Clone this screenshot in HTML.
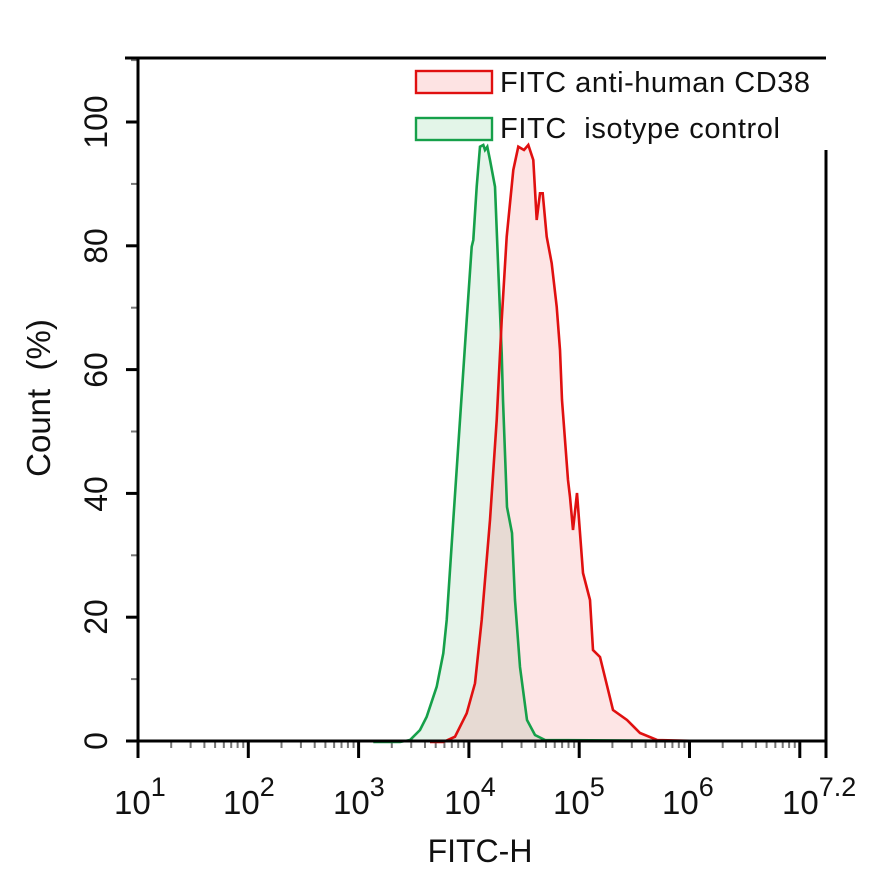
<!DOCTYPE html>
<html><head><style>
body{margin:0;background:#fff;}
svg text{font-family:"Liberation Sans",Arial,sans-serif;fill:#111;}
</style></head><body>
<svg id="s" width="869" height="877" xmlns="http://www.w3.org/2000/svg">
<g id="minor" stroke="#777" stroke-width="2"></g>
<path id="gf" fill="#2e9e4f" fill-opacity="0.12" stroke="none"/>
<path id="rf" fill="#f05050" fill-opacity="0.15" stroke="none"/>
<path id="gl" fill="none" stroke="#16a04a" stroke-width="2.6"/>
<path id="rl" fill="none" stroke="#e01010" stroke-width="2.6"/>
<g stroke="#000" stroke-width="3" fill="none">
<line x1="125" y1="58" x2="826" y2="58"/>
<line x1="138" y1="58" x2="138" y2="742"/>
<line x1="126" y1="741" x2="826" y2="741"/>
<line x1="826" y1="150" x2="826" y2="758"/>
</g>
<g id="major" stroke="#000" stroke-width="3"></g>
<rect x="416" y="71" width="76" height="22" fill="#fde3e3" stroke="#e01010" stroke-width="2.4"/>
<text x="500" y="92" font-size="29" textLength="310">FITC anti-human CD38</text>
<rect x="416" y="118" width="76" height="22" fill="#e3f5e8" stroke="#16a04a" stroke-width="2.4"/>
<text x="500" y="138" font-size="29" xml:space="preserve" textLength="280">FITC  isotype control</text>
<g font-size="32" text-anchor="middle">
<text transform="translate(107,741) rotate(-90)">0</text>
<text transform="translate(107,617) rotate(-90)">20</text>
<text transform="translate(107,494) rotate(-90)">40</text>
<text transform="translate(107,370) rotate(-90)">60</text>
<text transform="translate(107,246) rotate(-90)">80</text>
<text transform="translate(107,122) rotate(-90)">100</text>
<text transform="translate(50,398) rotate(-90)" xml:space="preserve" font-size="33">Count  (%)</text>
<text x="480" y="862" font-size="32">FITC-H</text>
</g>
<g font-size="33">
<text x="114" y="814">10<tspan dy="-18" font-size="27">1</tspan></text>
<text x="223" y="814">10<tspan dy="-18" font-size="27">2</tspan></text>
<text x="333" y="814">10<tspan dy="-18" font-size="27">3</tspan></text>
<text x="444" y="814">10<tspan dy="-18" font-size="27">4</tspan></text>
<text x="553" y="814">10<tspan dy="-18" font-size="27">5</tspan></text>
<text x="662" y="814">10<tspan dy="-18" font-size="27">6</tspan></text>
<text x="782" y="814">10<tspan dy="-18" font-size="27">7.2</tspan></text>
</g>
</svg>
<script>
function T(a){return a.map(function(p){return [400+p[0]/3,120+p[1]/3];});}
var g=T([[-80,1866],[0,1866],[30,1860],[60,1830],[80,1790],[110,1700],[130,1600],[140,1500],[160,1200],[180,900],[200,600],[215,380],[220,360],[230,200],[240,80],[250,75],[255,90],[262,80],[270,120],[285,200],[295,450],[305,700]]).concat([[503,400],[507,507],[512,533],[515,600],[520,667],[527,720],[535,735],[545,740],[700,741]]);
var r=T([[90,1866],[130,1866],[165,1850],[200,1780],[225,1690],[245,1500],[270,1200],[290,900],[305,600],[320,350],[340,150],[355,80],[372,90],[385,75],[400,120],[410,300],[420,220],[428,220],[440,350],[455,430],[470,560]]).concat([[560,350],[562,400],[568,480],[570,497],[573,530],[577,493],[583,573],[590,600],[593,650],[600,657],[613,710],[627,720],[640,733],[657,740],[700,741]]);
function P(a){return a.map(function(p,i){return (i?'L':'M')+p[0].toFixed(1)+','+p[1].toFixed(1)}).join('');}
document.getElementById('gl').setAttribute('d',P(g));
document.getElementById('rl').setAttribute('d',P(r));
document.getElementById('gf').setAttribute('d',P(g)+'Z');
document.getElementById('rf').setAttribute('d',P(r)+'Z');
var ns='http://www.w3.org/2000/svg';
function L(par,x1,y1,x2,y2){var l=document.createElementNS(ns,'line');l.setAttribute('x1',x1);l.setAttribute('y1',y1);l.setAttribute('x2',x2);l.setAttribute('y2',y2);document.getElementById(par).appendChild(l);}
var x0=138,dx=110.3;
for(var d=0;d<=6;d++){var xm=x0+d*dx;L('major',xm,741,xm,758);
 for(var k=2;k<=9;k++){var xx=xm+Math.log10(k)*dx;if(xx<826)L('minor',xx,742,xx,748);}}
L('major',826,741,826,758);
for(var v=0;v<=110;v+=10){var y=741-v*6.19;if(v%20==0)L('major',126,y,138,y);else L('minor',131,y,138,y);}
</script>
</body></html>
